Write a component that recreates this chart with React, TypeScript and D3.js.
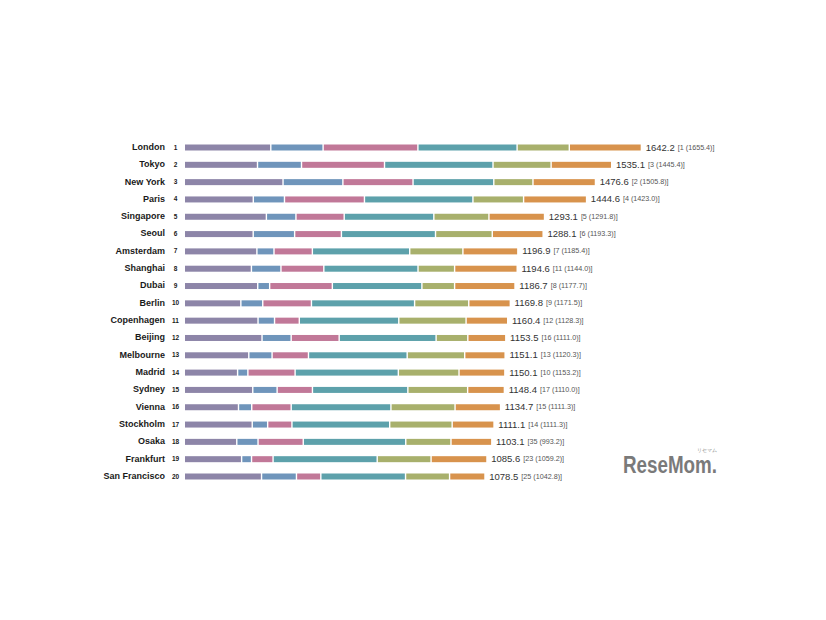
import React from "react";
import * as d3 from "d3";

// Cities ranked by overall score
const cities = [
  "London", "Tokyo", "New York", "Paris", "Singapore", "Seoul", "Amsterdam",
  "Shanghai", "Dubai", "Berlin", "Copenhagen", "Beijing", "Melbourne", "Madrid",
  "Sydney", "Vienna", "Stockholm", "Osaka", "Frankfurt", "San Francisco",
];

// Function scores (stacked left to right)
const economy = [311.7, 263.8, 355.8, 248.6, 295.8, 248.3, 261.6, 241.9, 264.6, 203.8, 265.7, 280.1, 232.4, 192.1, 246.7, 195.3, 244.8, 189.1, 206.6, 278.4];
const research = [188.5, 158.6, 215.7, 112.4, 106.5, 149.3, 61.6, 106.4, 43.0, 78.9, 59.5, 105.0, 83.9, 37.0, 87.8, 47.7, 55.6, 76.6, 35.7, 125.8];
const culture = [341.6, 299.1, 252.8, 288.2, 173.9, 168.6, 138.3, 154.5, 225.9, 175.5, 89.2, 173.0, 131.2, 170.2, 127.3, 142.2, 87.5, 163.0, 77.6, 87.8];
const livability = [357.5, 391.0, 291.0, 390.9, 323.0, 339.1, 350.8, 339.4, 322.7, 371.7, 358.5, 349.3, 355.7, 372.0, 343.8, 359.4, 352.3, 369.3, 375.3, 305.3];
const environment = [188.1, 209.4, 141.2, 182.6, 198.6, 204.5, 191.7, 131.9, 117.9, 195.2, 242.5, 114.3, 207.3, 218.7, 215.5, 231.1, 225.1, 163.0, 194.1, 158.7];
const accessibility = [254.8, 213.2, 220.1, 221.9, 195.3, 178.3, 192.9, 220.5, 212.6, 144.7, 145.0, 131.8, 140.6, 160.1, 127.3, 159.0, 145.8, 142.1, 196.3, 122.5];

const totals = [1642.2, 1535.1, 1476.6, 1444.6, 1293.1, 1288.1, 1196.9, 1194.6, 1186.7, 1169.8, 1160.4, 1153.5, 1151.1, 1150.1, 1148.4, 1134.7, 1111.1, 1103.1, 1085.6, 1078.5];

// Previous ranking and score
const prevRanks = [1, 3, 2, 4, 5, 6, 7, 11, 8, 9, 12, 16, 13, 10, 17, 15, 14, 35, 23, 25];
const prevScores = ["1655.4", "1445.4", "1505.8", "1423.0", "1291.8", "1193.3", "1185.4", "1144.0", "1177.7", "1171.5", "1128.3", "1111.0", "1120.3", "1153.2", "1110.0", "1111.3", "1111.3", "993.2", "1059.2", "1042.8"];

const seriesList = [economy, research, culture, livability, environment, accessibility];
const colors = ["#8d85a8", "#6f95bb", "#c17898", "#5da1ab", "#a8b06c", "#d8934d"];

const FONT = "'Liberation Sans', Arial, Helvetica, sans-serif";

export default function App() {
  const width = 826;
  const height = 620;

  const x = d3.scaleLinear().domain([0, 1642.2]).range([185, 640.7]);
  const y = d3.scalePoint<string>().domain(cities).range([147.5, 476.5]);
  const barH = 6;
  const gap = 1.4;

  return (
    <svg
      width={width}
      height={height}
      style={{ position: "absolute", left: 0, top: 0, background: "#fff" }}
      fontFamily={FONT}
    >
      {cities.map((city, i) => {
        const cy = y(city) as number;
        let acc = 0;
        const segs = seriesList.map((s, k) => {
          const x0 = x(acc);
          acc += s[i];
          const x1 = x(acc);
          const w = k < seriesList.length - 1 ? x1 - x0 - gap : x1 - x0;
          return (
            <rect key={k} x={x0} y={cy - barH / 2} width={Math.max(0, w)} height={barH} fill={colors[k]} />
          );
        });
        const endX = x(totals[i]);
        return (
          <g key={city}>
            <text x={165} y={cy} textAnchor="end" dominantBaseline="middle" fontSize={9} fontWeight="bold" fill="#1a1a1a">
              {city}
            </text>
            <text x={175.5} y={cy + 0.3} textAnchor="middle" dominantBaseline="middle" fontSize={6.5} fontWeight="bold" fill="#1a1a1a">
              {i + 1}
            </text>
            {segs}
            <text x={endX + 5} y={cy} dominantBaseline="middle" fill="#333">
              <tspan fontSize={9.5}>{totals[i].toFixed(1)}</tspan>
              <tspan fontSize={7.2} fill="#555" dx={3}>{`[${prevRanks[i]} (${prevScores[i]})]`}</tspan>
            </text>
          </g>
        );
      })}

      {/* publisher mark */}
      <g fill="#7a7a7a">
        <text x={623} y={472.5} fontSize={23} fontWeight="bold" textLength={94} lengthAdjust="spacingAndGlyphs">
          ReseMom.
        </text>
        <text x={697} y={452} fontSize={4.5} fill="#8a8a8a">リセマム</text>
      </g>
    </svg>
  );
}
